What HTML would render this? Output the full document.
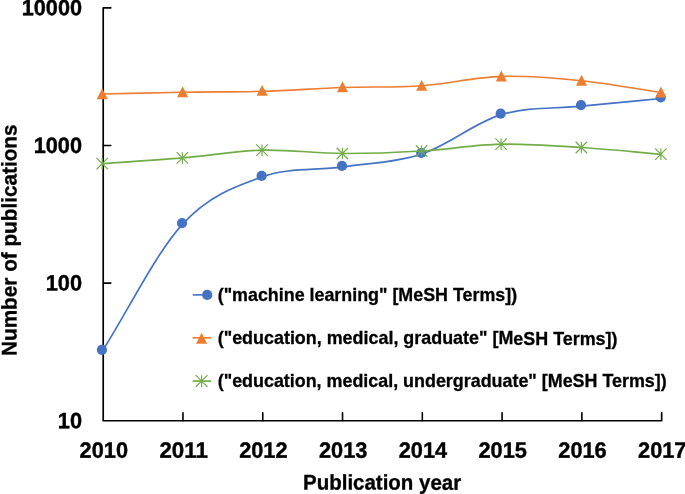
<!DOCTYPE html><html><head><meta charset="utf-8"><title>Publications chart</title>
<style>html,body{margin:0;padding:0;background:#fff}svg{display:block}text{font-family:"Liberation Sans",sans-serif;font-weight:bold;fill:#000}</style></head><body>
<svg width="685" height="494" viewBox="0 0 685 494">
<rect width="685" height="494" fill="#fff"/>
<path d="M110.80 7.85 H103.20 V420.75 H661.66 V412.85" stroke="#000" stroke-width="1.7" stroke-linejoin="round" stroke-linecap="round" fill="none"/>
<path d="M182.98 420.75 V412.85M262.76 420.75 V412.85M342.54 420.75 V412.85M422.32 420.75 V412.85M502.10 420.75 V412.85M581.88 420.75 V412.85M103.20 283.12 H110.80M103.20 145.48 H110.80" stroke="#000" stroke-width="1.6" stroke-linecap="round" fill="none"/>
<path d="M102.50 350.90 C129.20 308.63 155.98 253.10 182.60 224.10 C209.22 195.10 235.53 186.43 262.20 176.90 C288.87 167.37 316.00 170.72 342.60 166.90 C369.20 163.08 395.36 162.71 421.80 154.00 C448.24 145.29 474.62 122.63 501.25 114.65 C527.88 106.67 554.92 108.79 581.60 106.10 C608.28 103.41 634.73 101.03 661.30 98.50" stroke="#4472C4" stroke-width="1.65" fill="none"/>
<circle cx="101.90" cy="349.90" r="5.10" fill="#4472C4"/>
<circle cx="182.00" cy="223.10" r="5.10" fill="#4472C4"/>
<circle cx="261.60" cy="175.90" r="5.10" fill="#4472C4"/>
<circle cx="342.00" cy="165.90" r="5.10" fill="#4472C4"/>
<circle cx="421.20" cy="153.00" r="5.10" fill="#4472C4"/>
<circle cx="500.65" cy="113.65" r="5.10" fill="#4472C4"/>
<circle cx="581.00" cy="105.10" r="5.10" fill="#4472C4"/>
<circle cx="660.70" cy="97.50" r="5.10" fill="#4472C4"/>
<path d="M102.25 94.00 C129.03 93.40 155.95 92.65 182.60 92.20 C209.25 91.75 235.50 92.08 262.15 91.30 C288.80 90.52 315.91 88.43 342.50 87.50 C369.09 86.57 395.23 87.55 421.70 85.70 C448.17 83.85 474.66 77.23 501.30 76.40 C527.94 75.57 554.95 78.02 581.55 80.70 C608.15 83.38 634.45 88.57 660.90 92.50" stroke="#ED7D31" stroke-width="1.65" fill="none"/>
<path d="M102.25 88.30 L107.80 99.25 L96.70 99.25 Z" fill="#ED7D31"/>
<path d="M182.60 86.30 L188.15 97.25 L177.05 97.25 Z" fill="#ED7D31"/>
<path d="M262.15 84.90 L267.70 95.85 L256.60 95.85 Z" fill="#ED7D31"/>
<path d="M342.50 81.30 L348.05 92.25 L336.95 92.25 Z" fill="#ED7D31"/>
<path d="M421.70 79.90 L427.25 90.85 L416.15 90.85 Z" fill="#ED7D31"/>
<path d="M501.30 70.50 L506.85 81.45 L495.75 81.45 Z" fill="#ED7D31"/>
<path d="M581.55 74.80 L587.10 85.75 L576.00 85.75 Z" fill="#ED7D31"/>
<path d="M660.90 86.55 L666.45 97.50 L655.35 97.50 Z" fill="#ED7D31"/>
<path d="M102.20 163.70 C128.93 161.77 155.77 160.16 182.40 157.90 C209.03 155.64 235.33 150.88 262.00 150.15 C288.67 149.42 315.80 153.36 342.40 153.50 C369.00 153.64 395.15 152.56 421.60 151.00 C448.05 149.44 474.47 144.73 501.10 144.15 C527.73 143.57 554.77 145.82 581.40 147.50 C608.03 149.18 634.40 151.97 660.90 154.20" stroke="#70AD47" stroke-width="1.65" fill="none"/>
<path d="M102.20 157.95 V169.45 M96.45 157.95 L107.95 169.45 M96.45 169.45 L107.95 157.95" stroke="#70AD47" stroke-width="1.15" fill="none"/>
<path d="M182.40 152.15 V163.65 M176.65 152.15 L188.15 163.65 M176.65 163.65 L188.15 152.15" stroke="#70AD47" stroke-width="1.15" fill="none"/>
<path d="M262.00 144.40 V155.90 M256.25 144.40 L267.75 155.90 M256.25 155.90 L267.75 144.40" stroke="#70AD47" stroke-width="1.15" fill="none"/>
<path d="M342.40 147.75 V159.25 M336.65 147.75 L348.15 159.25 M336.65 159.25 L348.15 147.75" stroke="#70AD47" stroke-width="1.15" fill="none"/>
<path d="M421.60 145.25 V156.75 M415.85 145.25 L427.35 156.75 M415.85 156.75 L427.35 145.25" stroke="#70AD47" stroke-width="1.15" fill="none"/>
<path d="M501.10 138.40 V149.90 M495.35 138.40 L506.85 149.90 M495.35 149.90 L506.85 138.40" stroke="#70AD47" stroke-width="1.15" fill="none"/>
<path d="M581.40 141.75 V153.25 M575.65 141.75 L587.15 153.25 M575.65 153.25 L587.15 141.75" stroke="#70AD47" stroke-width="1.15" fill="none"/>
<path d="M660.90 148.45 V159.95 M655.15 148.45 L666.65 159.95 M655.15 159.95 L666.65 148.45" stroke="#70AD47" stroke-width="1.15" fill="none"/>
<text transform="translate(82.00 15.35) rotate(0.03)" font-size="22.2" text-anchor="end" textLength="60.3" lengthAdjust="spacingAndGlyphs" stroke="#000" stroke-width="0.4">10000</text>
<text transform="translate(82.00 152.98) rotate(0.03)" font-size="22.2" text-anchor="end" textLength="48.3" lengthAdjust="spacingAndGlyphs" stroke="#000" stroke-width="0.4">1000</text>
<text transform="translate(82.00 290.62) rotate(0.03)" font-size="22.2" text-anchor="end" textLength="36.3" lengthAdjust="spacingAndGlyphs" stroke="#000" stroke-width="0.4">100</text>
<text transform="translate(82.00 428.25) rotate(0.03)" font-size="22.2" text-anchor="end" textLength="24.2" lengthAdjust="spacingAndGlyphs" stroke="#000" stroke-width="0.4">10</text>
<text transform="translate(103.80 457.70) rotate(0.03)" font-size="22.2" text-anchor="middle" textLength="48.4" lengthAdjust="spacingAndGlyphs" stroke="#000" stroke-width="0.4">2010</text>
<text transform="translate(183.58 457.70) rotate(0.03)" font-size="22.2" text-anchor="middle" textLength="48.4" lengthAdjust="spacingAndGlyphs" stroke="#000" stroke-width="0.4">2011</text>
<text transform="translate(263.36 457.70) rotate(0.03)" font-size="22.2" text-anchor="middle" textLength="48.4" lengthAdjust="spacingAndGlyphs" stroke="#000" stroke-width="0.4">2012</text>
<text transform="translate(343.14 457.70) rotate(0.03)" font-size="22.2" text-anchor="middle" textLength="48.4" lengthAdjust="spacingAndGlyphs" stroke="#000" stroke-width="0.4">2013</text>
<text transform="translate(422.92 457.70) rotate(0.03)" font-size="22.2" text-anchor="middle" textLength="48.4" lengthAdjust="spacingAndGlyphs" stroke="#000" stroke-width="0.4">2014</text>
<text transform="translate(502.70 457.70) rotate(0.03)" font-size="22.2" text-anchor="middle" textLength="48.4" lengthAdjust="spacingAndGlyphs" stroke="#000" stroke-width="0.4">2015</text>
<text transform="translate(582.48 457.70) rotate(0.03)" font-size="22.2" text-anchor="middle" textLength="48.4" lengthAdjust="spacingAndGlyphs" stroke="#000" stroke-width="0.4">2016</text>
<text transform="translate(662.26 457.70) rotate(0.03)" font-size="22.2" text-anchor="middle" textLength="48.4" lengthAdjust="spacingAndGlyphs" stroke="#000" stroke-width="0.4">2017</text>
<text transform="translate(382.1 489.6) rotate(0.03)" font-size="21.2" text-anchor="middle" textLength="158" lengthAdjust="spacingAndGlyphs" stroke="#000" stroke-width="0.35">Publication year</text>
<text transform="translate(16.45 240.2) rotate(-89.97)" font-size="21.2" text-anchor="middle" textLength="231.5" lengthAdjust="spacingAndGlyphs" stroke="#000" stroke-width="0.35">Number of publications</text>
<text transform="translate(217.7 301.20) rotate(0.02)" font-size="18.4" textLength="299.4" lengthAdjust="spacingAndGlyphs" stroke="#000" stroke-width="0.3">(&quot;machine learning&quot; [MeSH Terms])</text>
<text transform="translate(217.7 344.40) rotate(0.02)" font-size="18.4" textLength="399.8" lengthAdjust="spacingAndGlyphs" stroke="#000" stroke-width="0.3">(&quot;education, medical, graduate&quot; [MeSH Terms])</text>
<text transform="translate(217.7 387.20) rotate(0.02)" font-size="18.4" textLength="449.0" lengthAdjust="spacingAndGlyphs" stroke="#000" stroke-width="0.3">(&quot;education, medical, undergraduate&quot; [MeSH Terms])</text>
<path d="M192.7 294.9 H207" stroke="#4472C4" stroke-width="1.6"/>
<circle cx="207.25" cy="294.90" r="5.10" fill="#4472C4"/>
<path d="M192.6 337.8 H211.1" stroke="#ED7D31" stroke-width="1.7"/>
<path d="M201.60 332.70 L207.15 343.65 L196.05 343.65 Z" fill="#ED7D31"/>
<path d="M192.6 381.1 H211.1" stroke="#70AD47" stroke-width="1.7"/>
<path d="M201.60 375.20 V387.00 M195.70 375.20 L207.50 387.00 M195.70 387.00 L207.50 375.20" stroke="#70AD47" stroke-width="1.15" fill="none"/>
</svg></body></html>
